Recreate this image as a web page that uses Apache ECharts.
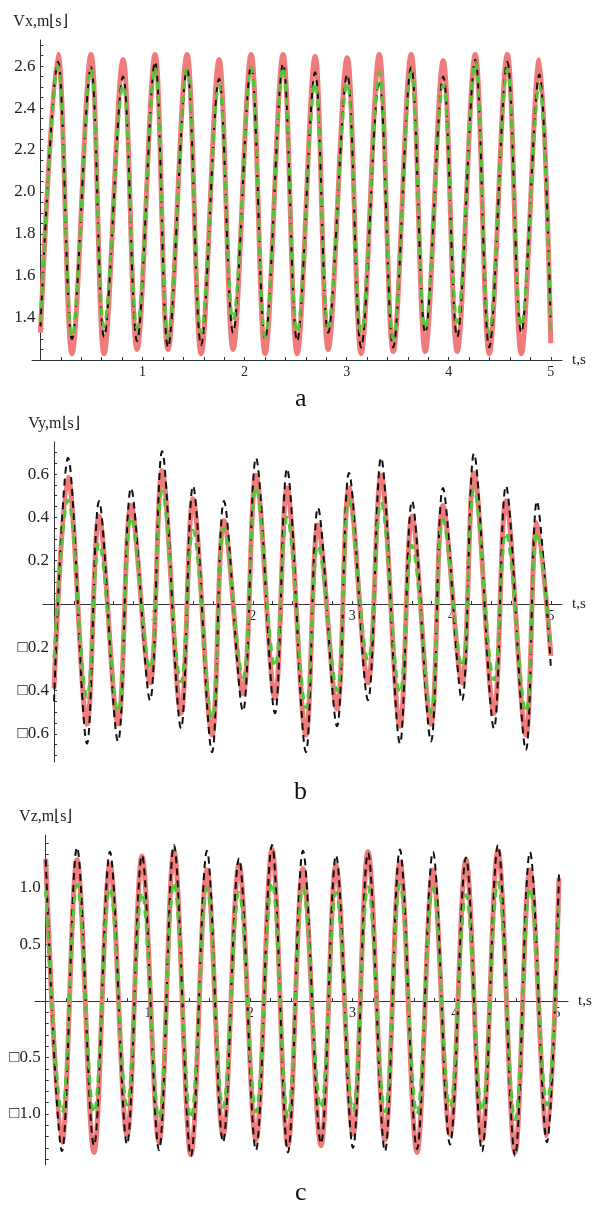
<!DOCTYPE html>
<html>
<head>
<meta charset="utf-8">
<script src="https://cdn.jsdelivr.net/npm/echarts@6/dist/echarts.min.js"></script>
<style>
  html, body { margin: 0; padding: 0; background: #fff; }
  #chart { width: 600px; height: 1205px; }
</style>
</head>
<body>
<div id="chart"></div>
<script>
// extremes of each curve, start and end points
// panel a - Vx
var timeA = [0, 0.172, 0.309, 0.495, 0.623, 0.809, 0.946, 1.123, 1.250, 1.436, 1.574, 1.750, 1.887, 2.064, 2.201, 2.377, 2.515,
  2.691, 2.819, 3.005, 3.142, 3.319, 3.456, 3.632, 3.770, 3.946, 4.083, 4.260, 4.397, 4.574, 4.711, 4.887, 5.0];
var redA = [1.33, 2.655, 1.23, 2.655, 1.23, 2.63, 1.25, 2.655, 1.25, 2.655, 1.23, 2.63, 1.25, 2.655, 1.23, 2.655, 1.23,
  2.645, 1.25, 2.64, 1.23, 2.655, 1.24, 2.655, 1.24, 2.625, 1.24, 2.655, 1.23, 2.655, 1.23, 2.63, 1.28];
var blackA = [1.36, 2.62, 1.30, 2.595, 1.31, 2.55, 1.29, 2.62, 1.26, 2.585, 1.27, 2.54, 1.33, 2.60, 1.30, 2.61, 1.29,
  2.57, 1.33, 2.56, 1.26, 2.53, 1.26, 2.595, 1.33, 2.55, 1.31, 2.63, 1.26, 2.62, 1.33, 2.56, 1.35];
var greenA = [1.38, 2.60, 1.31, 2.585, 1.36, 2.51, 1.35, 2.595, 1.31, 2.585, 1.33, 2.51, 1.39, 2.595, 1.31, 2.595, 1.33,
  2.52, 1.36, 2.52, 1.33, 2.57, 1.30, 2.57, 1.35, 2.51, 1.38, 2.62, 1.33, 2.585, 1.36, 2.51, 1.33];

// panel b - Vy
var timeB = [0, 0.141, 0.332, 0.453, 0.644, 0.775, 0.966, 1.087, 1.278, 1.398, 1.590, 1.710, 1.901, 2.032, 2.223, 2.344, 2.535,
  2.656, 2.847, 2.968, 3.159, 3.290, 3.481, 3.602, 3.793, 3.913, 4.105, 4.225, 4.427, 4.547, 4.748, 4.859, 5.0];
var redB = [-0.39, 0.585, -0.555, 0.405, -0.555, 0.455, -0.365, 0.615, -0.505, 0.485, -0.605, 0.385, -0.415, 0.595, -0.435, 0.535, -0.605,
  0.365, -0.485, 0.535, -0.365, 0.595, -0.565, 0.405, -0.555, 0.455, -0.365, 0.605, -0.505, 0.475, -0.605, 0.375, -0.24];
var blackB = [-0.45, 0.675, -0.645, 0.475, -0.635, 0.535, -0.445, 0.705, -0.575, 0.545, -0.685, 0.475, -0.495, 0.675, -0.505, 0.625, -0.685,
  0.445, -0.565, 0.605, -0.445, 0.675, -0.645, 0.475, -0.635, 0.535, -0.445, 0.695, -0.575, 0.545, -0.675, 0.475, -0.30];
var greenB = [-0.25, 0.48, -0.43, 0.28, -0.50, 0.40, -0.30, 0.52, -0.36, 0.34, -0.53, 0.35, -0.34, 0.54, -0.29, 0.40, -0.48,
  0.27, -0.40, 0.48, -0.26, 0.47, -0.41, 0.27, -0.50, 0.39, -0.29, 0.53, -0.35, 0.33, -0.50, 0.33, -0.20];

// panel c - Vz
var timeC = [0, 0.159, 0.306, 0.472, 0.628, 0.795, 0.941, 1.108, 1.254, 1.420, 1.577, 1.734, 1.890, 2.056, 2.213, 2.369, 2.516,
  2.692, 2.839, 3.005, 3.152, 3.318, 3.464, 3.631, 3.787, 3.954, 4.110, 4.267, 4.423, 4.590, 4.736, 4.902, 5.02];
var redC = [1.26, -1.25, 1.25, -1.34, 1.21, -1.19, 1.28, -1.25, 1.33, -1.36, 1.16, -1.19, 1.21, -1.23, 1.34, -1.28, 1.17,
  -1.28, 1.20, -1.18, 1.32, -1.23, 1.23, -1.34, 1.16, -1.18, 1.25, -1.23, 1.33, -1.34, 1.16, -1.19, 1.09];
var blackC = [1.25, -1.33, 1.36, -1.28, 1.32, -1.27, 1.29, -1.32, 1.38, -1.37, 1.33, -1.25, 1.26, -1.32, 1.38, -1.34, 1.33,
  -1.26, 1.29, -1.30, 1.31, -1.33, 1.34, -1.31, 1.32, -1.27, 1.27, -1.33, 1.38, -1.37, 1.32, -1.25, 1.14];
var greenC = [0.98, -0.99, 1.03, -0.99, 1.00, -0.92, 0.96, -1.04, 1.05, -1.04, 1.00, -0.94, 0.96, -0.98, 1.05, -1.03, 1.00,
  -0.95, 0.96, -0.97, 1.01, -0.98, 1.03, -1.00, 1.00, -0.94, 0.94, -0.97, 1.05, -1.05, 1.00, -0.92, 0.83];

// tick labels
var xLabels = [1, 2, 3, 4, 5];
var yLabelsA = [1.4, 1.6, 1.8, 2.0, 2.2, 2.4, 2.6];
var yLabelsB = [-0.6, -0.4, -0.2, 0.2, 0.4, 0.6];
var yLabelsC = [-1.0, -0.5, 0.5, 1.0];
var yNames = ['Vx,m\u230As\u230B', 'Vy,m\u230As\u230B', 'Vz,m\u230As\u230B'];
var captions = ['a', 'b', 'c'];

var FONT = 'Liberation Serif';
var RED = '#F07B7B', BLACK = '#111111', GREEN = '#55C535';
var W = 600;

var grids = [
  { left: 32, right: 38, top: 40, height: 320 },
  { left: 43, right: 38, top: 442, height: 320 },
  { left: 35, right: 32, top: 835, height: 330 }
];
var xRanges = [[-0.083, 5.11], [-0.111, 5.111], [-0.105, 5.108]];
var yRanges = [[1.2, 2.724], [-0.73, 0.748], [-1.451, 1.469]];

function steps(from, to, step) {
  var out = [];
  for (var v = from; v <= to + 1e-9; v += step) out.push(Math.round(v * 1000) / 1000);
  return out;
}

function pairs(t, v) {
  return t.map(function (x, i) { return [x, v[i]]; });
}

// axes cross at zero: shift the whole axis (line, ticks, labels) onto the other axis' zero
function zeroShift(range, size) {
  if (range[0] >= 0 || range[1] <= 0) return 0;
  return -(0 - range[0]) / (range[1] - range[0]) * size;
}

function xAxis(idx) {
  var g = grids[idx];
  return {
    gridIndex: idx, type: 'value', min: xRanges[idx][0], max: xRanges[idx][1],
    position: 'bottom', offset: zeroShift(yRanges[idx], g.height),
    name: 't,s', nameLocation: 'end', nameGap: 10,
    nameTextStyle: { fontFamily: FONT, fontSize: 15, color: '#222', verticalAlign: 'middle' },
    axisLine: { onZero: false, lineStyle: { color: '#333', width: 1 } },
    axisTick: { inside: true, length: 3, customValues: steps(0.2, 5, 0.2), lineStyle: { color: '#333' } },
    axisLabel: {
      customValues: xLabels, margin: 5, fontFamily: FONT, fontSize: 14, color: '#222',
      formatter: function (v) { return String(Math.round(v)); }
    },
    splitLine: { show: false }
  };
}

function yAxis(idx, labels, ticks) {
  var g = grids[idx];
  return {
    gridIndex: idx, type: 'value', min: yRanges[idx][0], max: yRanges[idx][1],
    position: 'left', offset: zeroShift(xRanges[idx], W - g.left - g.right),
    name: yNames[idx], nameLocation: 'end', nameGap: 10,
    nameTextStyle: { fontFamily: FONT, fontSize: 16, color: '#222' },
    axisLine: { onZero: false, lineStyle: { color: '#333', width: 1 } },
    axisTick: { inside: true, length: 3, customValues: ticks, lineStyle: { color: '#333' } },
    axisLabel: {
      customValues: labels, margin: 5, fontFamily: FONT, fontSize: 17, color: '#222',
      formatter: function (v) { return v < 0 ? '\u25A1' + (-v).toFixed(1) : v.toFixed(1); }
    },
    splitLine: { show: false }
  };
}

function lines(idx, t, r, k, g) {
  return [
    { type: 'line', xAxisIndex: idx, yAxisIndex: idx, data: pairs(t, r), smooth: 0.36, showSymbol: false,
      lineStyle: { color: RED, width: 5 }, z: 2 },
    { type: 'line', xAxisIndex: idx, yAxisIndex: idx, data: pairs(t, k), smooth: 0.36, showSymbol: false,
      lineStyle: { color: BLACK, width: 2, type: [7, 5] }, z: 3 },
    { type: 'line', xAxisIndex: idx, yAxisIndex: idx, data: pairs(t, g), smooth: 0.36, showSymbol: false,
      lineStyle: { color: GREEN, width: 3, type: [8, 6] }, z: 4 }
  ];
}

var option = {
  backgroundColor: '#fff',
  animation: false,
  grid: grids.map(function (g) {
    return { left: g.left, right: g.right, top: g.top, height: g.height, outerBoundsMode: 'none' };
  }),
  xAxis: [xAxis(0), xAxis(1), xAxis(2)],
  yAxis: [
    yAxis(0, yLabelsA, steps(1.25, 2.7, 0.05)),
    yAxis(1, yLabelsB, steps(-0.7, 0.7, 0.05)),
    yAxis(2, yLabelsC, steps(-1.4, 1.4, 0.1))
  ],
  graphic: [
    { type: 'text', left: 295, top: 386, style: { text: captions[0], font: '26px "' + FONT + '"', fill: '#111' } },
    { type: 'text', left: 294, top: 779, style: { text: captions[1], font: '26px "' + FONT + '"', fill: '#111' } },
    { type: 'text', left: 295, top: 1180, style: { text: captions[2], font: '26px "' + FONT + '"', fill: '#111' } }
  ],
  series: [].concat(
    lines(0, timeA, redA, blackA, greenA),
    lines(1, timeB, redB, blackB, greenB),
    lines(2, timeC, redC, blackC, greenC)
  )
};

var myChart = echarts.init(document.getElementById('chart'));
myChart.setOption(option);
</script>
</body>
</html>
